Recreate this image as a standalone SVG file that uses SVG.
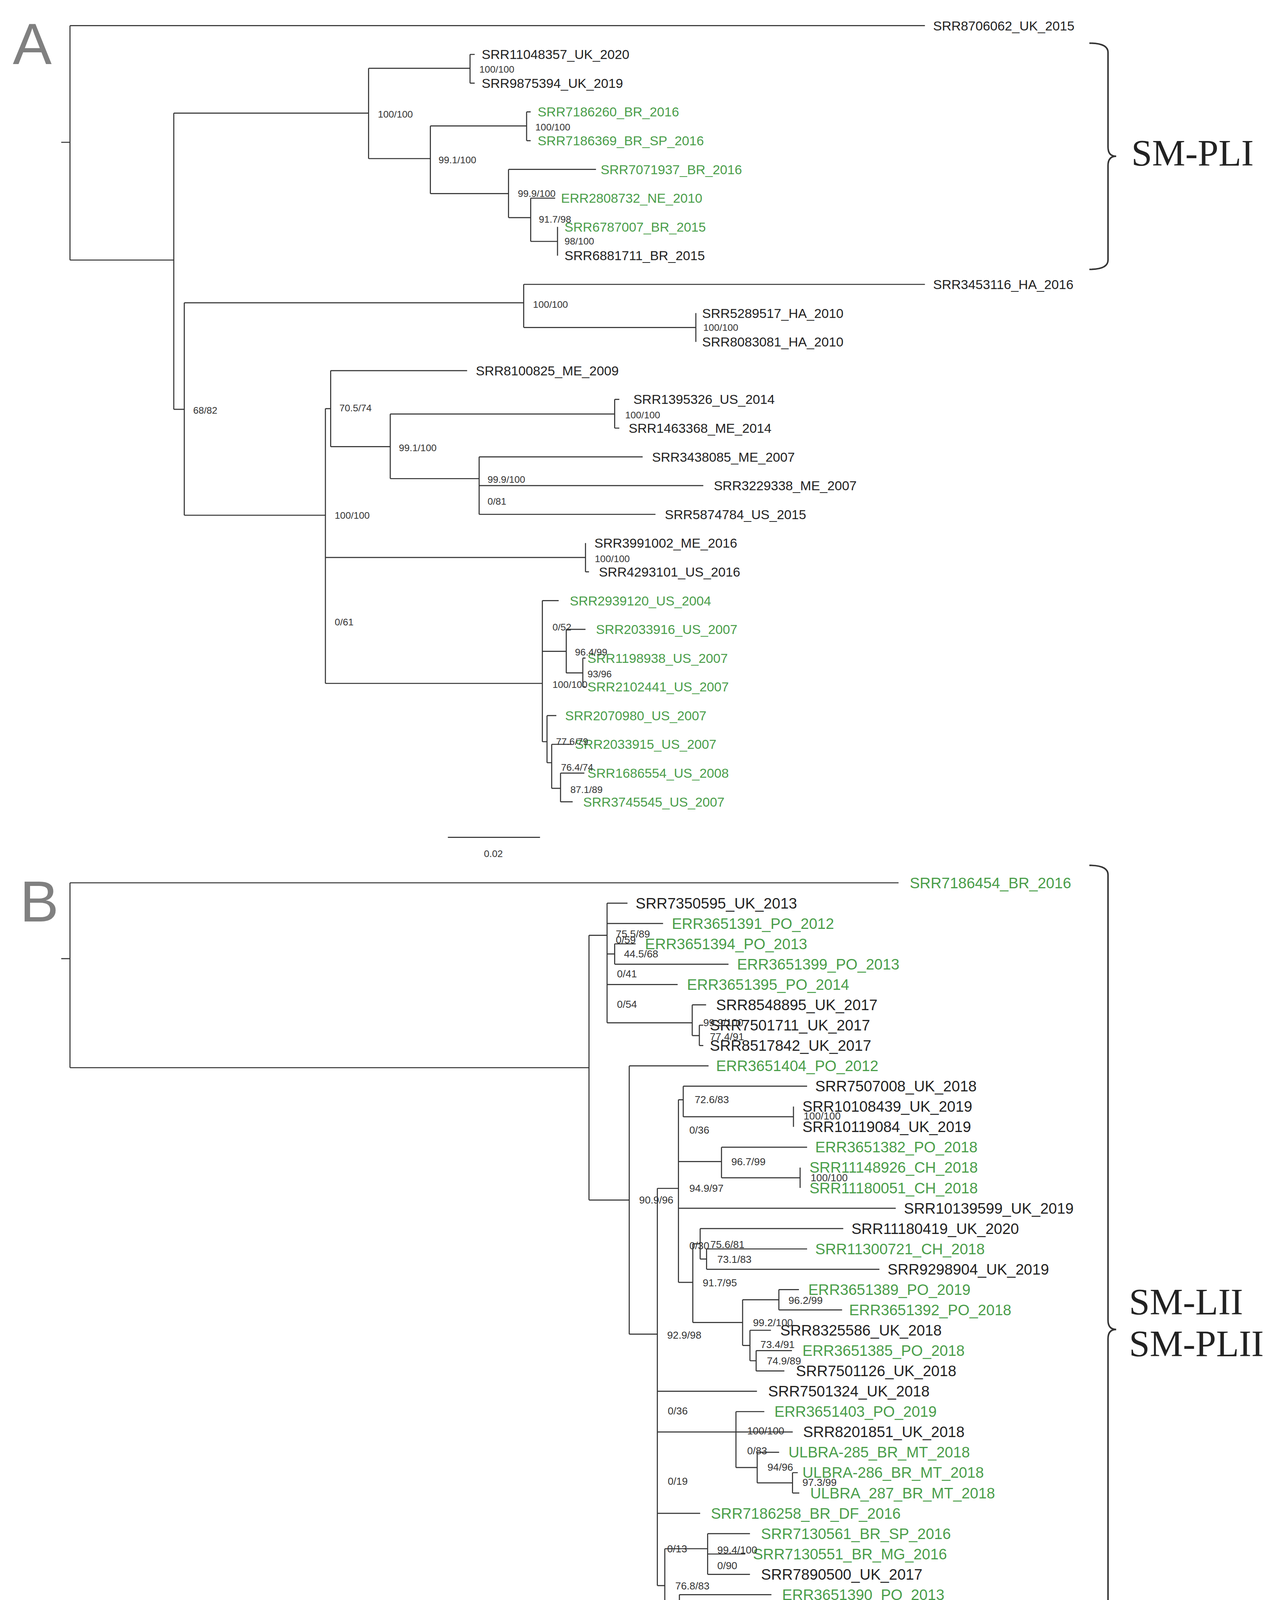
<svg xmlns="http://www.w3.org/2000/svg" width="3279" height="4697" viewBox="0 0 3279 4697">
<style>
.br{fill:none;stroke:#333;stroke-width:0.9}
.lf{font-family:"Liberation Sans",Arial,sans-serif;dominant-baseline:central;fill:#222}
.a{font-size:11.3px}.b{font-size:12.9px}
.g{fill:#4a9e4a}
.sp{font-family:"Liberation Sans",Arial,sans-serif;dominant-baseline:central;fill:#333}
.sa{font-size:8.3px}.sb{font-size:8.8px}
.cl{font-family:"Liberation Serif","Times New Roman",serif;font-size:32px;fill:#222}
.pl{font-family:"Liberation Sans",Arial,sans-serif;font-size:50px;fill:#808080}
.brc{fill:none;stroke:#333;stroke-width:1.3}
</style>
<rect width="3279" height="4697" fill="#fff"/>
<g transform="scale(2.9855)">
<text class="pl" x="11" y="55">A</text>
<text class="pl" x="17" y="790">B</text>
<g id="connectors">
<path class="br" d="M52.5,122H60M60,22V223M60,22H793M60,223H149M149,97V351M149,97H316M316,58.6V136M316,58.6H403M403,46.65V71.3M403,46.65H407M403,71.3H407M316,136H369M369,108V166M369,108H451.5M451.5,95.95V120.6M451.5,95.95H455M451.5,120.6H455M369,166H436M436,145.25V186.6M436,145.25H511M436,186.6H455M455,169.9V207M455,169.9H476M455,207H478M478,194.55V219.2M149,351H158M158,259.6V441.8M158,259.6H449M449,243.85V280.8M449,243.85H793M449,280.8H596.6M596.6,268.5V293.15M158,441.8H279M279,350.4V586M279,350.4H283.5M283.5,317.8V383M283.5,317.8H400.5M283.5,383H334.6M334.6,355V410.4M334.6,355H527M527,342.45V367.1M527,342.45H531M527,367.1H531M334.6,410.4H410.8M410.8,391.75V441.05M410.8,391.75H551M410.8,416.4H603M410.8,441.05H562M279,478H502M502,465.7V490.35M502,490.35H505M279,586H465M465,515V636M465,515H479M465,558.5H485.5M485.5,539.65V577M485.5,539.65H502M485.5,577H499.7M499.7,564.3V588.95M499.7,564.3H502M499.7,588.95H502M465,636H469M469,613.6V654M469,613.6H477M469,654H473M473,638.25V676M473,638.25H490M473,676H480.6M480.6,662.9V687.55M480.6,662.9H501M480.6,687.55H491M384,718H463"/>
<path class="br" d="M52.5,822H60M60,757V915.5M60,757H770.4M60,915.5H505M505,802V1029M505,802H520.5M520.5,774.44V877M520.5,774.44H538M520.5,791.88H568.5M520.5,818H527M527,809.32V826.76M527,809.32H545M527,826.76H624.6M520.5,844.2H581M520.5,877H593.5M593.5,861.64V888M593.5,861.64H605.4M593.5,888H599.6M599.6,879.08V896.52M599.6,879.08H603M599.6,896.52H603M505,1029H539.5M539.5,913.96V1144M539.5,913.96H607.5M539.5,1144H563.6M563.6,1019V1359.6M563.6,1019H581.7M581.7,943V1099.6M581.7,943H585.8M585.8,931.4V957.6M585.8,931.4H692M585.8,957.6H680.3M680.3,948.84V966.28M581.7,996H618.6M618.6,983.72V1009.9M618.6,983.72H692M618.6,1009.9H686M686,1001.16V1018.6M581.7,1036.04H768M581.7,1099.6H594M594,1066.5V1134M594,1066.5H600.3M600.3,1053.48V1079.6M600.3,1053.48H723M600.3,1079.6H605.8M605.8,1070.92V1088.36M605.8,1070.92H692M605.8,1088.36H754M594,1134H636.7M636.7,1114.5V1153.7M636.7,1114.5H667.8M667.8,1105.8V1123.24M667.8,1105.8H685M667.8,1123.24H722M636.7,1153.7H643M643,1140.68V1166.8M643,1140.68H661M643,1166.8H648.3M648.3,1158.12V1175.56M648.3,1158.12H679M648.3,1175.56H672.5M563.6,1193H649M563.6,1227.88H631M631,1210.44V1258.4M631,1210.44H655.3M631,1227.88H679.7M631,1258.4H649.2M649.2,1245.32V1271.5M649.2,1245.32H668M649.2,1271.5H679.5M679.5,1262.76V1280.2M679.5,1262.76H684M679.5,1280.2H685.3M563.6,1297.64H600.3M563.6,1359.6H570M570,1328V1392M570,1328H606.7M606.7,1315.08V1349.96M606.7,1315.08H643M606.7,1332.52H639M606.7,1349.96H643M570,1392H582.5M582.5,1367.4V1416.4M582.5,1367.4H661.4M582.5,1416.4H594.2M594.2,1393.5V1439M594.2,1393.5H606M606,1384.84V1402.28M606,1384.84H661M606,1402.28H636.7M594.2,1439H600.3M600.3,1419.72V1459M600.3,1419.72H649M600.3,1459H606M606,1437.16V1481M606,1437.16H667M606,1481H672.8M672.8,1463.3V1506.92M672.8,1463.3H678.4M678.4,1454.6V1472.04M678.4,1454.6H771.4M678.4,1472.04H740M672.8,1489.48H746.4M672.8,1506.92H697M365,1567H457"/>
<path class="brc" d="M934,37Q950,37 950,45V126Q950,134 957,134Q950,134 950,142V223Q950,231 934,231"/>
<path class="brc" d="M934,742Q950,742 950,750V1132Q950,1140 957,1140Q950,1140 950,1148V1552Q950,1560 934,1560"/>
</g>
<g id="scale">
<text class="sp sa" x="423" y="732" text-anchor="middle">0.02</text>
<text class="sp sa" x="410" y="1580" text-anchor="middle">0.02</text>
</g>
<g id="clades">
<text class="cl" x="970" y="142">SM-PLI</text>
<text class="cl" x="968" y="1127">SM-LII</text>
<text class="cl" x="968" y="1163">SM-PLII</text>
</g>
<g id="leavesA" class="lf a">
<g id="a0"><text x="800" y="22">SRR8706062_UK_2015</text></g>
<g id="a1"><text x="413" y="46.65">SRR11048357_UK_2020</text></g>
<g id="a2"><text x="413" y="71.3">SRR9875394_UK_2019</text></g>
<g id="a3"><text class="g" x="461" y="95.95">SRR7186260_BR_2016</text></g>
<g id="a4"><text class="g" x="461" y="120.6">SRR7186369_BR_SP_2016</text></g>
<g id="a5"><text class="g" x="515" y="145.25">SRR7071937_BR_2016</text></g>
<g id="a6"><text class="g" x="481" y="169.9">ERR2808732_NE_2010</text></g>
<g id="a7"><text class="g" x="484" y="194.55">SRR6787007_BR_2015</text></g>
<g id="a8"><text x="484" y="219.2">SRR6881711_BR_2015</text></g>
<g id="a9"><text x="800" y="243.85">SRR3453116_HA_2016</text></g>
<g id="a10"><text x="602" y="268.5">SRR5289517_HA_2010</text></g>
<g id="a11"><text x="602" y="293.15">SRR8083081_HA_2010</text></g>
<g id="a12"><text x="408" y="317.8">SRR8100825_ME_2009</text></g>
<g id="a13"><text x="543" y="342.45">SRR1395326_US_2014</text></g>
<g id="a14"><text x="539" y="367.1">SRR1463368_ME_2014</text></g>
<g id="a15"><text x="559" y="391.75">SRR3438085_ME_2007</text></g>
<g id="a16"><text x="612" y="416.4">SRR3229338_ME_2007</text></g>
<g id="a17"><text x="570" y="441.05">SRR5874784_US_2015</text></g>
<g id="a18"><text x="509.6" y="465.7">SRR3991002_ME_2016</text></g>
<g id="a19"><text x="513.5" y="490.35">SRR4293101_US_2016</text></g>
<g id="a20"><text class="g" x="488.5" y="515">SRR2939120_US_2004</text></g>
<g id="a21"><text class="g" x="511" y="539.65">SRR2033916_US_2007</text></g>
<g id="a22"><text class="g" x="503.7" y="564.3">SRR1198938_US_2007</text></g>
<g id="a23"><text class="g" x="503.7" y="588.95">SRR2102441_US_2007</text></g>
<g id="a24"><text class="g" x="484.5" y="613.6">SRR2070980_US_2007</text></g>
<g id="a25"><text class="g" x="493" y="638.25">SRR2033915_US_2007</text></g>
<g id="a26"><text class="g" x="503.7" y="662.9">SRR1686554_US_2008</text></g>
<g id="a27"><text class="g" x="500" y="687.55">SRR3745545_US_2007</text></g>
</g>
<g id="supportA" class="sp sa">
<text x="411" y="59.5">100/100</text><text x="324" y="98">100/100</text><text x="376" y="137">99.1/100</text><text x="459" y="109">100/100</text><text x="444" y="166">99.9/100</text><text x="462" y="188">91.7/98</text><text x="484" y="207">98/100</text><text x="457" y="261">100/100</text><text x="603" y="281">100/100</text><text x="165.6" y="352">68/82</text><text x="291" y="350">70.5/74</text><text x="342" y="384">99.1/100</text><text x="536" y="356">100/100</text><text x="418" y="411">99.9/100</text><text x="418" y="430">0/81</text><text x="510" y="479">100/100</text><text x="287" y="442">100/100</text><text x="287" y="533.5">0/61</text><text x="473.7" y="537.6">0/52</text><text x="493" y="559.3">96.4/99</text><text x="503.7" y="578">93/96</text><text x="473.7" y="587">100/100</text><text x="476.7" y="636">77.6/79</text><text x="481" y="658">76.4/74</text><text x="489" y="677">87.1/89</text>
</g>
<g id="leavesB" class="lf b">
<g id="b0"><text class="g" x="780" y="757">SRR7186454_BR_2016</text></g>
<g id="b1"><text x="545" y="774.44">SRR7350595_UK_2013</text></g>
<g id="b2"><text class="g" x="576" y="791.88">ERR3651391_PO_2012</text></g>
<g id="b3"><text class="g" x="553" y="809.32">ERR3651394_PO_2013</text></g>
<g id="b4"><text class="g" x="632" y="826.76">ERR3651399_PO_2013</text></g>
<g id="b5"><text class="g" x="589" y="844.2">ERR3651395_PO_2014</text></g>
<g id="b6"><text x="614" y="861.64">SRR8548895_UK_2017</text></g>
<g id="b7"><text x="608.6" y="879.08">SRR7501711_UK_2017</text></g>
<g id="b8"><text x="608.6" y="896.52">SRR8517842_UK_2017</text></g>
<g id="b9"><text class="g" x="614" y="913.96">ERR3651404_PO_2012</text></g>
<g id="b10"><text x="699" y="931.4">SRR7507008_UK_2018</text></g>
<g id="b11"><text x="688" y="948.84">SRR10108439_UK_2019</text></g>
<g id="b12"><text x="688" y="966.28">SRR10119084_UK_2019</text></g>
<g id="b13"><text class="g" x="699" y="983.72">ERR3651382_PO_2018</text></g>
<g id="b14"><text class="g" x="694" y="1001.16">SRR11148926_CH_2018</text></g>
<g id="b15"><text class="g" x="694" y="1018.6">SRR11180051_CH_2018</text></g>
<g id="b16"><text x="775" y="1036.04">SRR10139599_UK_2019</text></g>
<g id="b17"><text x="730" y="1053.48">SRR11180419_UK_2020</text></g>
<g id="b18"><text class="g" x="699" y="1070.92">SRR11300721_CH_2018</text></g>
<g id="b19"><text x="761" y="1088.36">SRR9298904_UK_2019</text></g>
<g id="b20"><text class="g" x="693" y="1105.8">ERR3651389_PO_2019</text></g>
<g id="b21"><text class="g" x="728" y="1123.24">ERR3651392_PO_2018</text></g>
<g id="b22"><text x="669" y="1140.68">SRR8325586_UK_2018</text></g>
<g id="b23"><text class="g" x="688" y="1158.12">ERR3651385_PO_2018</text></g>
<g id="b24"><text x="682.5" y="1175.56">SRR7501126_UK_2018</text></g>
<g id="b25"><text x="658.6" y="1193">SRR7501324_UK_2018</text></g>
<g id="b26"><text class="g" x="664" y="1210.44">ERR3651403_PO_2019</text></g>
<g id="b27"><text x="688.6" y="1227.88">SRR8201851_UK_2018</text></g>
<g id="b28"><text class="g" x="676" y="1245.32">ULBRA-285_BR_MT_2018</text></g>
<g id="b29"><text class="g" x="688" y="1262.76">ULBRA-286_BR_MT_2018</text></g>
<g id="b30"><text class="g" x="694.7" y="1280.2">ULBRA_287_BR_MT_2018</text></g>
<g id="b31"><text class="g" x="609.5" y="1297.64">SRR7186258_BR_DF_2016</text></g>
<g id="b32"><text class="g" x="652.5" y="1315.08">SRR7130561_BR_SP_2016</text></g>
<g id="b33"><text class="g" x="645.6" y="1332.52">SRR7130551_BR_MG_2016</text></g>
<g id="b34"><text x="652.5" y="1349.96">SRR7890500_UK_2017</text></g>
<g id="b35"><text class="g" x="670.6" y="1367.4">ERR3651390_PO_2013</text></g>
<g id="b36"><text x="670" y="1384.84">SRR5585377_UK_2017</text></g>
<g id="b37"><text x="645.6" y="1402.28">SRR7533298_UK_2016</text></g>
<g id="b38"><text x="657.6" y="1419.72">SRR1957962_UK_2014</text></g>
<g id="b39"><text x="676" y="1437.16">SRR11903200_UK_2020</text></g>
<g id="b40"><text x="779.7" y="1454.6">SRR11903219_UK_2020</text></g>
<g id="b41"><text x="749" y="1472.04">SRR9335555_UK_2019</text></g>
<g id="b42"><text x="755" y="1489.48">SRR5583061_UK_2017</text></g>
<g id="b43"><text x="706.7" y="1506.92">SRR7962252_UK_2017</text></g>
</g>
<g id="supportB" class="sp sb">
<text x="528" y="801">75.5/89</text><text x="528" y="806">0/59</text><text x="535" y="818">44.5/68</text><text x="529" y="835">0/41</text><text x="529" y="861">0/54</text><text x="603" y="877">99.9/100</text><text x="608.6" y="889">77.4/91</text><text x="548" y="1029">90.9/96</text><text x="572" y="1145">92.9/98</text><text x="591" y="1019">94.9/97</text><text x="595.6" y="943">72.6/83</text><text x="591" y="969">0/36</text><text x="689" y="957">100/100</text><text x="627" y="996">96.7/99</text><text x="695" y="1010">100/100</text><text x="602.5" y="1100">91.7/95</text><text x="591" y="1068">0/30</text><text x="609" y="1067">75.6/81</text><text x="615" y="1080">73.1/83</text><text x="676" y="1115">96.2/99</text><text x="645.6" y="1134">99.2/100</text><text x="652" y="1153">73.4/91</text><text x="657.5" y="1167">74.9/89</text><text x="572.5" y="1209.8">0/36</text><text x="640.6" y="1227">100/100</text><text x="640.6" y="1244">0/83</text><text x="658" y="1258">94/96</text><text x="688" y="1271">97.3/99</text><text x="572.5" y="1270">0/19</text><text x="572" y="1328">0/13</text><text x="615" y="1329">99.4/100</text><text x="615" y="1342.6">0/90</text><text x="579" y="1360">76.8/83</text><text x="591.4" y="1392">88.4/98</text><text x="615" y="1396">87.9/91</text><text x="603" y="1416">84.4/91</text><text x="609.5" y="1440">75.8/84</text><text x="615" y="1460">72.6/91</text><text x="687" y="1464">71.6/88</text><text x="682.5" y="1482">99.7/100</text><text x="681.7" y="1498">0/74</text>
</g>
</g>
</svg>
